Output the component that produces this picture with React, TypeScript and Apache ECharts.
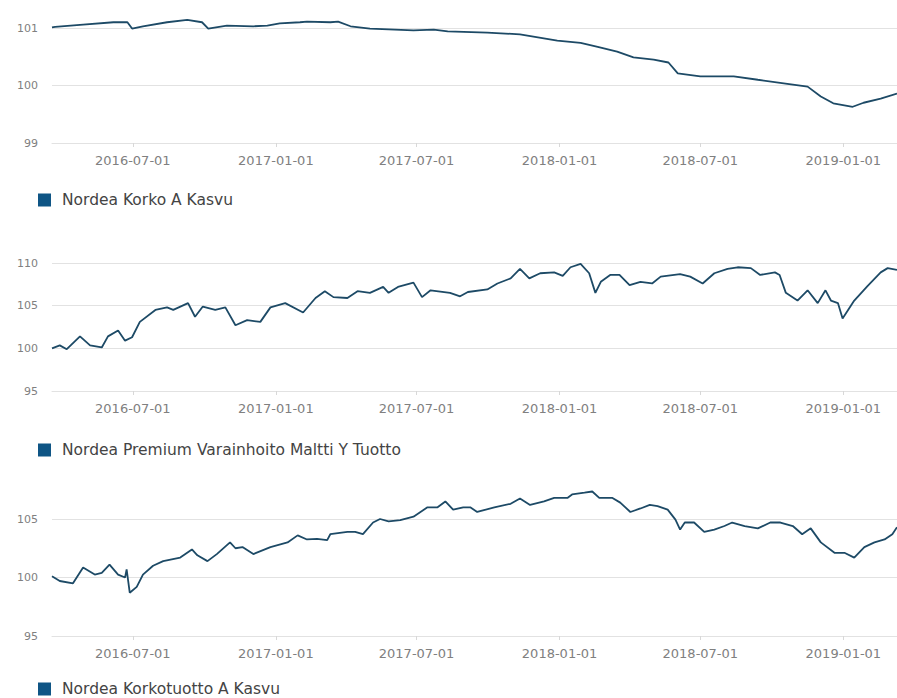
import React, { useEffect, useRef } from "react";
import * as echarts from "echarts";

const axisStart = "2016-03-19";
const axisEnd = "2019-03-11";
const xTickDates = ["2016-07-01", "2017-01-01", "2017-07-01", "2018-01-01", "2018-07-01", "2019-01-01"];

const seriesNames = [
  "Nordea Korko A Kasvu",
  "Nordea Premium Varainhoito Maltti Y Tuotto",
  "Nordea Korkotuotto A Kasvu",
];

// y-axis ranges [min, max, interval]
const korkoAxis = [99, 101, 1];
const premiumAxis = [95, 110, 5];
const korkotuottoAxis = [95, 105, 5];

const korkoDates = [
  "2016-03-19", "2016-03-23", "2016-04-28", "2016-06-06", "2016-06-24", "2016-06-30", "2016-07-14",
  "2016-08-14", "2016-09-09", "2016-09-28", "2016-10-06", "2016-10-30", "2016-12-03", "2016-12-21",
  "2017-01-06", "2017-02-01", "2017-02-10", "2017-03-12", "2017-03-22", "2017-04-07", "2017-05-02",
  "2017-06-27", "2017-07-23", "2017-08-10", "2017-09-30", "2017-11-11", "2017-12-29", "2018-01-28",
  "2018-02-19", "2018-03-16", "2018-04-06", "2018-05-02", "2018-05-21", "2018-06-02", "2018-06-14",
  "2018-07-01", "2018-08-13", "2018-09-13", "2018-10-21", "2018-11-16", "2018-12-03", "2018-12-19",
  "2019-01-13", "2019-01-27", "2019-02-18", "2019-03-11",
];
const korkoValues = [
  101.01, 101.02, 101.06, 101.1, 101.1, 100.99, 101.03,
  101.1, 101.14, 101.1, 100.99, 101.04, 101.03, 101.04,
  101.08, 101.1, 101.11, 101.1, 101.11, 101.03, 100.99,
  100.96, 100.97, 100.94, 100.92, 100.89, 100.78, 100.74,
  100.67, 100.59, 100.49, 100.45, 100.4, 100.21, 100.19,
  100.16, 100.16, 100.1, 100.03, 99.98, 99.81, 99.69,
  99.63, 99.7, 99.77, 99.86,
];

const premiumDates = [
  "2016-03-19", "2016-03-29", "2016-04-07", "2016-04-24", "2016-05-07", "2016-05-22", "2016-05-30",
  "2016-06-12", "2016-06-21", "2016-06-30", "2016-07-10", "2016-07-30", "2016-08-14", "2016-08-22",
  "2016-09-10", "2016-09-19", "2016-09-29", "2016-10-15", "2016-10-28", "2016-11-10", "2016-11-25",
  "2016-12-12", "2016-12-25", "2017-01-13", "2017-02-05", "2017-02-21", "2017-03-05", "2017-03-16",
  "2017-04-03", "2017-04-16", "2017-05-02", "2017-05-19", "2017-05-26", "2017-06-07", "2017-06-27",
  "2017-07-08", "2017-07-19", "2017-08-13", "2017-08-26", "2017-09-05", "2017-09-30", "2017-10-13",
  "2017-10-30", "2017-11-11", "2017-11-23", "2017-12-07", "2017-12-25", "2018-01-05", "2018-01-15",
  "2018-01-28", "2018-02-08", "2018-02-16", "2018-02-23", "2018-03-07", "2018-03-19", "2018-04-01",
  "2018-04-15", "2018-04-30", "2018-05-11", "2018-06-05", "2018-06-18", "2018-07-04", "2018-07-19",
  "2018-08-05", "2018-08-18", "2018-09-04", "2018-09-16", "2018-10-05", "2018-10-11", "2018-10-19",
  "2018-11-03", "2018-11-16", "2018-11-29", "2018-12-09", "2018-12-16", "2018-12-25", "2018-12-31",
  "2019-01-15", "2019-02-01", "2019-02-18", "2019-02-27", "2019-03-11",
];
const premiumValues = [
  100.0, 100.35, 99.9, 101.4, 100.35, 100.1, 101.4,
  102.1, 100.9, 101.3, 103.1, 104.5, 104.8, 104.5,
  105.3, 103.7, 104.9, 104.5, 104.8, 102.7, 103.3,
  103.1, 104.8, 105.3, 104.2, 105.9, 106.7, 106.0,
  105.9, 106.7, 106.5, 107.2, 106.5, 107.2, 107.7,
  106.0, 106.8, 106.5, 106.1, 106.6, 106.9, 107.6,
  108.2, 109.3, 108.2, 108.8, 108.9, 108.5, 109.5,
  109.9, 108.8, 106.5, 107.8, 108.6, 108.6, 107.4,
  107.8, 107.6, 108.4, 108.7, 108.4, 107.6, 108.8,
  109.3, 109.5, 109.4, 108.6, 108.9, 108.6, 106.5,
  105.6, 106.8, 105.3, 106.8, 105.6, 105.3, 103.5,
  105.6, 107.3, 108.9, 109.4, 109.2,
];

const korkotuottoDates = [
  "2016-03-19", "2016-03-29", "2016-04-15", "2016-04-28", "2016-05-13", "2016-05-22", "2016-06-01",
  "2016-06-12", "2016-06-21", "2016-06-23", "2016-06-27", "2016-07-06", "2016-07-14", "2016-07-27",
  "2016-08-09", "2016-08-31", "2016-09-15", "2016-09-22", "2016-10-05", "2016-10-17", "2016-11-03",
  "2016-11-10", "2016-11-19", "2016-12-03", "2016-12-25", "2017-01-16", "2017-01-29", "2017-02-10",
  "2017-02-23", "2017-03-08", "2017-03-12", "2017-04-03", "2017-04-13", "2017-04-23", "2017-05-06",
  "2017-05-15", "2017-05-26", "2017-06-10", "2017-06-27", "2017-07-15", "2017-07-28", "2017-08-07",
  "2017-08-17", "2017-08-30", "2017-09-08", "2017-09-17", "2017-10-09", "2017-10-30", "2017-11-11",
  "2017-11-24", "2017-12-12", "2017-12-25", "2018-01-11", "2018-01-17", "2018-02-02", "2018-02-12",
  "2018-02-21", "2018-03-10", "2018-03-20", "2018-04-02", "2018-04-15", "2018-04-27", "2018-05-07",
  "2018-05-20", "2018-05-30", "2018-06-05", "2018-06-11", "2018-06-23", "2018-07-06", "2018-07-19",
  "2018-08-01", "2018-08-11", "2018-08-27", "2018-09-13", "2018-09-29", "2018-10-12", "2018-10-28",
  "2018-11-09", "2018-11-20", "2018-12-03", "2018-12-21", "2019-01-03", "2019-01-15", "2019-01-28",
  "2019-02-10", "2019-02-23", "2019-03-05", "2019-03-11",
];
const korkotuottoValues = [
  100.1, 99.7, 99.5, 100.85, 100.25, 100.4, 101.1,
  100.25, 100.0, 100.7, 98.7, 99.2, 100.25, 101.0,
  101.4, 101.7, 102.4, 101.9, 101.4, 102.0, 103.0,
  102.5, 102.6, 102.0, 102.6, 103.0, 103.6, 103.25,
  103.3, 103.2, 103.7, 103.9, 103.9, 103.7, 104.7,
  105.0, 104.8, 104.9, 105.2, 106.0, 106.0, 106.5,
  105.8, 106.0, 106.0, 105.6, 106.0, 106.3, 106.75,
  106.2, 106.5, 106.8, 106.8, 107.1, 107.25, 107.35,
  106.8, 106.8, 106.4, 105.6, 105.9, 106.2, 106.1,
  105.8, 104.95, 104.1, 104.7, 104.7, 103.9, 104.1,
  104.4, 104.7, 104.4, 104.2, 104.7, 104.7, 104.4,
  103.7, 104.2, 103.0, 102.1, 102.1, 101.7, 102.6,
  103.0, 103.25, 103.7, 104.3,
];

const LINE_COLOR = "#1d4a66";
const ICON_COLOR = "#0f5585";
const FONT = "'DejaVu Sans', Verdana, sans-serif";

const gridTops = [28, 263, 519];
const gridHeights = [115, 128, 117];
const legendTops = [187, 437, 676];

function pad(n: number) {
  return n < 10 ? "0" + n : "" + n;
}
function fmtDate(v: number) {
  const d = new Date(v);
  return d.getFullYear() + "-" + pad(d.getMonth() + 1) + "-" + pad(d.getDate());
}
function ts(s: string) {
  return echarts.number.parseDate(s).getTime();
}

export default function App() {
  const ref = useRef<HTMLDivElement>(null);
  useEffect(() => {
    if (!ref.current) return;
    const chart = echarts.init(ref.current, null, { renderer: "svg" });
    const tickValues = xTickDates.map(ts);
    const axes = [korkoAxis, premiumAxis, korkotuottoAxis];
    const dateLists = [korkoDates, premiumDates, korkotuottoDates];
    const valueLists = [korkoValues, premiumValues, korkotuottoValues];

    const option: any = {
      animation: false,
      backgroundColor: "#ffffff",
      textStyle: { fontFamily: FONT },
      grid: gridTops.map((top, i) => ({
        left: 52,
        right: 0,
        top,
        height: gridHeights[i],
        containLabel: false,
      })),
      xAxis: gridTops.map((_, i) => ({
        type: "value",
        gridIndex: i,
        min: ts(axisStart),
        max: ts(axisEnd),
        scale: true,
        axisLine: { show: true, lineStyle: { color: "#e2e2e2", width: 1 } },
        axisTick: {
          show: true,
          customValues: tickValues,
          length: 4,
          lineStyle: { color: "#d8d8d8" },
        },
        axisLabel: {
          customValues: tickValues,
          formatter: (v: number) => fmtDate(v),
          color: "#808080",
          fontSize: 13,
          fontFamily: FONT,
          margin: 11,
        },
        splitLine: { show: false },
      })),
      yAxis: axes.map((a, i) => ({
        type: "value",
        gridIndex: i,
        min: a[0],
        max: a[1],
        interval: a[2],
        axisLine: { show: false },
        axisTick: { show: false },
        axisLabel: { color: "#808080", fontSize: 11, fontFamily: FONT, margin: 14 },
        splitLine: { show: true, lineStyle: { color: "#e2e2e2", width: 1 } },
      })),
      legend: seriesNames.map((name, i) => ({
        data: [name],
        left: 33,
        top: legendTops[i],
        icon: "rect",
        itemWidth: 13,
        itemHeight: 13,
        itemGap: 10,
        selectedMode: false,
        textStyle: { color: "#444444", fontSize: 15.5, fontFamily: FONT, padding: [0, 0, 0, 6] },
      })),
      series: seriesNames.map((name, i) => ({
        name,
        type: "line",
        xAxisIndex: i,
        yAxisIndex: i,
        data: dateLists[i].map((d, j) => [ts(d), valueLists[i][j]]),
        showSymbol: false,
        symbol: "none",
        clip: false,
        lineStyle: { color: LINE_COLOR, width: 1.8 },
        itemStyle: { color: ICON_COLOR },
      })),
    };
    chart.setOption(option);
    return () => chart.dispose();
  }, []);
  return (
    <div
      ref={ref}
      style={{ position: "absolute", left: 0, top: 0, width: 897, height: 698 }}
    />
  );
}
